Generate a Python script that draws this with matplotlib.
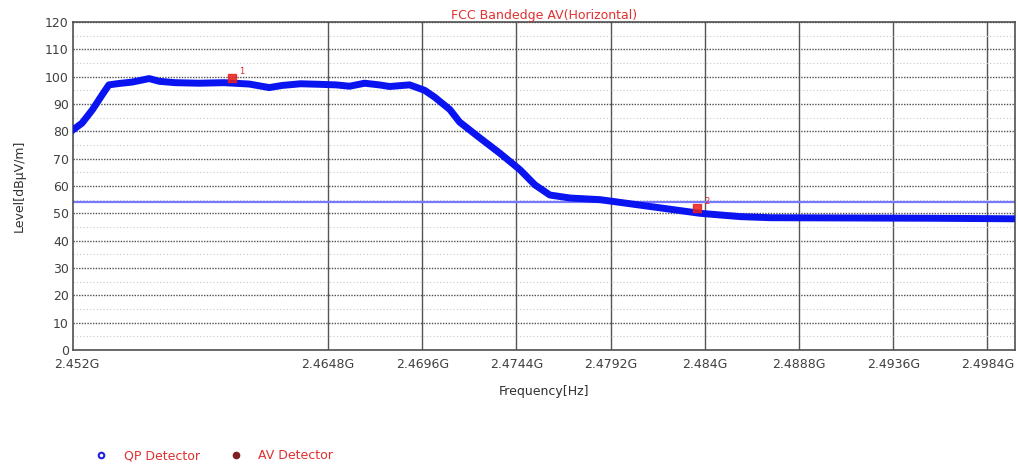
import numpy as np
import matplotlib.pyplot as plt
from matplotlib.lines import Line2D
from matplotlib.ticker import FixedLocator, MultipleLocator

# trace (frequency in GHz, level in dBuV/m)
freq = [2.45170, 2.45226, 2.45280, 2.45330, 2.45363, 2.45414, 2.45480, 2.45568,
        2.45620, 2.45700, 2.45823, 2.45950, 2.46078, 2.46180, 2.46247, 2.46340,
        2.46436, 2.46520, 2.46589, 2.46666, 2.46740, 2.46793, 2.46895, 2.46972,
        2.47023, 2.47100, 2.47150, 2.47253, 2.47355, 2.47457, 2.47534, 2.47610,
        2.47713, 2.47866, 2.48070, 2.48274, 2.48377, 2.48580, 2.48734, 2.49140,
        2.49550, 2.49985]
level = [80.0, 83.0, 88.0, 93.5, 97.0, 97.5, 98.0, 99.3,
         98.3, 97.8, 97.6, 97.8, 97.3, 96.0, 96.8, 97.4,
         97.2, 97.0, 96.5, 97.6, 97.0, 96.4, 97.0, 95.0,
         92.5, 88.0, 83.4, 77.6, 72.0, 66.0, 60.4, 56.7,
         55.6, 55.0, 53.0, 51.0, 50.0, 48.8, 48.4, 48.3,
         48.2, 48.0]

limit_level = 54
marker_freq = [2.4599, 2.4836]
marker_level = [99.5, 52.0]
marker_names = ['1', '2']

xticks = [2.452, 2.4648, 2.4696, 2.4744, 2.4792, 2.484, 2.4888, 2.4936, 2.4984]
xtick_labels = ['2.452G', '2.4648G', '2.4696G', '2.4744G', '2.4792G', '2.484G',
                '2.4888G', '2.4936G', '2.4984G']
yticks = list(range(0, 121, 10))

plt.rcParams['font.family'] = ['DejaVu Sans']

fig = plt.figure(figsize=(10.18, 4.65), dpi=100)
ax = fig.add_axes([0.0717, 0.2473, 0.9253, 0.7054])

# grid
ax.yaxis.set_major_locator(FixedLocator(yticks))
ax.yaxis.set_minor_locator(MultipleLocator(5))
ax.grid(axis='y', which='major', color='#505050', linestyle=(0, (1, 1)), linewidth=1)
ax.grid(axis='y', which='minor', color='#c8c8c8', linestyle=(0, (1, 2)), linewidth=0.8)
ax.set_xticks(xticks)
ax.set_xticklabels(xtick_labels)
for xt in xticks[1:]:
    ax.axvline(xt, color='#555555', linewidth=1, zorder=1)

# data
ax.axhline(limit_level, color='#7878ff', linewidth=1.6, zorder=2)
ax.plot(freq, level, color='#0a14f0', linewidth=5, solid_joinstyle='round', zorder=3)
ax.scatter(marker_freq, marker_level, marker='s', s=40, color='#e82020', alpha=0.85, zorder=4)
for f, l, n in zip(marker_freq, marker_level, marker_names):
    ax.annotate(n, (f, l), xytext=(5, 3), textcoords='offset points',
                color='#e82020', fontsize=6, zorder=6)

ax.set_xlim(2.4518, 2.4998)
ax.set_ylim(0, 120)
ax.tick_params(axis='both', which='both', length=0, labelsize=9, colors='#404040', pad=3)
ax.tick_params(axis='x', pad=6)
for s in ax.spines.values():
    s.set_color('#505050')
    s.set_linewidth(1.2)

ax.set_title('FCC Bandedge AV(Horizontal)', color='#e03030', fontsize=9, pad=1)
ax.set_xlabel('Frequency[Hz]', fontsize=9, color='#303030', labelpad=10)
ax.set_ylabel('Level[dB\u00b5V/m]', fontsize=9, color='#303030', labelpad=14)

# legend at bottom
handles = [Line2D([], [], linestyle='none', marker='o', markersize=4,
                  markerfacecolor='white', markeredgecolor='#2020e0', markeredgewidth=1.5),
           Line2D([], [], linestyle='none', marker='o', markersize=4.5,
                  markerfacecolor='#802020', markeredgecolor='#802020')]
fig.legend(handles, ['QP Detector', 'AV Detector'], loc='lower left',
           bbox_to_anchor=(0.076, -0.018), ncol=2, frameon=False, fontsize=9,
           labelcolor='#e03030', handletextpad=0.8, columnspacing=1.9)

fig.savefig('out.png', dpi=100)
